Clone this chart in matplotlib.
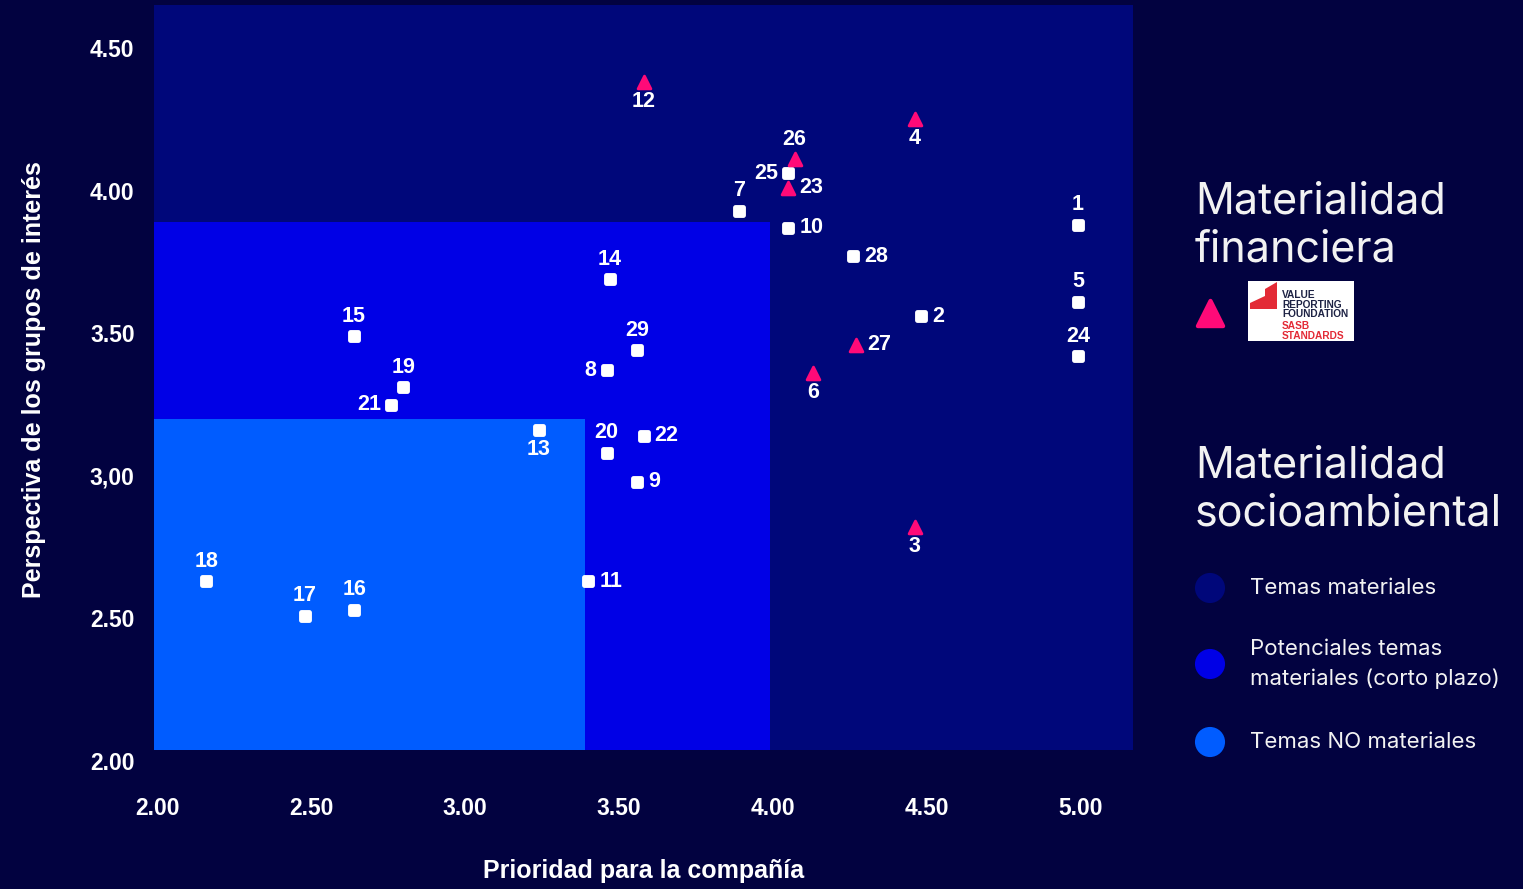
import numpy as np
import matplotlib.pyplot as plt
from matplotlib.markers import MarkerStyle
from matplotlib.patches import Rectangle, Polygon

# temas evaluados: prioridad para la compañía (x) y perspectiva de los grupos de interés (y)
temas = list(range(1, 30))
prioridad = [4.99, 4.48, 4.46, 4.46, 4.99, 4.13, 3.89, 3.46, 3.56, 4.05,
             3.40, 3.58, 3.24, 3.47, 2.64, 2.64, 2.48, 2.16, 2.80, 3.46,
             2.76, 3.58, 4.05, 4.99, 4.05, 4.07, 4.27, 4.26, 3.56]
perspectiva = [3.88, 3.56, 2.82, 4.25, 3.61, 3.36, 3.93, 3.37, 2.98, 3.87,
               2.63, 4.38, 3.16, 3.69, 3.49, 2.53, 2.51, 2.63, 3.31, 3.08,
               3.25, 3.14, 4.01, 3.42, 4.06, 4.11, 3.46, 3.77, 3.44]
# temas con materialidad financiera (SASB) -> triángulo
financiera = [3, 4, 6, 12, 23, 26, 27]

# zonas de materialidad socioambiental (esquina inferior izquierda común)
zona_origen = (1.99, 2.04)
zona_x_fin = [5.17, 3.99, 3.39]
zona_y_fin = [4.65, 3.89, 3.20]
zona_nombres = ['Temas materiales', 'Potenciales temas\nmateriales (corto plazo)', 'Temas NO materiales']

xticks = [2.0, 2.5, 3.0, 3.5, 4.0, 4.5, 5.0]
xtick_labels = ['2.00', '2.50', '3.00', '3.50', '4.00', '4.50', '5.00']
yticks = [2.0, 2.5, 3.0, 3.5, 4.0, 4.5]
ytick_labels = ['2.00', '2.50', '3,00', '3.50', '4.00', '4.50']

# colocación de las etiquetas numéricas (a = arriba, b = abajo, d = derecha, i = izquierda)
pos_etiqueta = {1: 'a', 2: 'd', 3: 'b', 4: 'b', 5: 'a', 6: 'b', 7: 'a', 8: 'i', 9: 'd', 10: 'd',
                11: 'd', 12: 'b', 13: 'b', 14: 'a', 15: 'a', 16: 'a', 17: 'a', 18: 'a', 19: 'a', 20: 'a',
                21: 'i', 22: 'd', 23: 'd', 24: 'a', 25: 'i', 26: 'a', 27: 'd', 28: 'd', 29: 'a'}

BG = '#020240'
ZONA_COLORES = ['#00077a', '#0000e6', '#005cff']
ROSA = '#ff0a78'
W, H = 1523, 889

fig = plt.figure(figsize=(W / 100, H / 100), dpi=100, facecolor=BG)
ax = fig.add_axes([154 / W, 1 - 761 / H, 979 / W, 756 / H])
ax.set_facecolor(BG)
ax.set_xlim(2 - 3 / 308, 2 + 976 / 308)
ax.set_ylim(2.0, 2 + 756 / 285.2)

for xf, yf, c in zip(zona_x_fin, zona_y_fin, ZONA_COLORES):
    ax.add_patch(Rectangle(zona_origen, xf - zona_origen[0], yf - zona_origen[1],
                           facecolor=c, edgecolor='none', zorder=0))

x = np.array(prioridad)
y = np.array(perspectiva)
es_fin = np.array([t in financiera for t in temas])

cuadrado = MarkerStyle('s', joinstyle='round')
triangulo = MarkerStyle('^', joinstyle='round')
ax.scatter(x[~es_fin], y[~es_fin], marker=cuadrado, s=38, c='white',
           edgecolors='white', linewidths=3.5, zorder=3)
ax.scatter(x[es_fin], y[es_fin], marker=triangulo, s=85, c=ROSA,
           edgecolors=ROSA, linewidths=2, zorder=3)

desp = {'a': ((0, 20), 'center', 'center'), 'b': ((0, -19), 'center', 'center'),
        'd': ((11, 0), 'left', 'center'), 'i': ((-10, 0), 'right', 'center')}
for t, xi, yi in zip(temas, prioridad, perspectiva):
    off, ha, va = desp[pos_etiqueta[t]]
    ax.annotate(str(t), (xi, yi), xytext=off, textcoords='offset pixels',
                ha=ha, va=va, color='white', fontsize=15.5, fontweight='bold',
                family=['Liberation Sans', 'DejaVu Sans'], zorder=4)

ax.set_xticks(xticks)
ax.set_xticklabels(xtick_labels)
ax.set_yticks(yticks)
ax.set_yticklabels(ytick_labels)
ax.tick_params(length=0, colors='white', labelsize=16.5)
ax.tick_params(axis='x', pad=26)
ax.tick_params(axis='y', pad=14)
for lab in ax.get_xticklabels() + ax.get_yticklabels():
    lab.set_fontweight('bold')
    lab.set_family(['Liberation Sans', 'DejaVu Sans'])
for s in ax.spines.values():
    s.set_visible(False)

ax.set_xlabel('Prioridad para la compañía', color='white', fontsize=18, fontweight='bold',
              family=['Liberation Sans', 'DejaVu Sans'], va='center')
ax.xaxis.set_label_coords((644 - 154) / 979, (761 - 871) / 756)
ax.set_ylabel('Perspectiva de los grupos de interés', color='white', fontsize=18, fontweight='bold',
              family=['Liberation Sans', 'DejaVu Sans'], va='center')
ax.yaxis.set_label_coords((34 - 154) / 979, (761 - 380) / 756)

# leyenda a la derecha, en coordenadas de píxel
lg = fig.add_axes([0, 0, 1, 1])
lg.set_xlim(0, W)
lg.set_ylim(H, 0)
lg.axis('off')
fuente = ['Inter', 'DejaVu Sans']
txt = '#f2f2f2'
lg.text(1195, 213, 'Materialidad', fontsize=31, color=txt, family=fuente, va='baseline')
lg.text(1195, 262, 'financiera', fontsize=31, color=txt, family=fuente, va='baseline')
lg.scatter([1210], [313], marker=triangulo, s=330, c=ROSA, edgecolors=ROSA, linewidths=3)

# logo Value Reporting Foundation / SASB
logo = Rectangle((1248, 281), 106, 60, facecolor='white', edgecolor='none')
lg.add_patch(logo)
lg.add_patch(Polygon([(1277, 282), (1277, 309), (1250, 309), (1250, 303), (1265, 296), (1265, 289)],
                     closed=True, facecolor='#e32a36', edgecolor='none'))
for yy, t, c in [(295, 'VALUE', '#1d2244'), (305, 'REPORTING', '#1d2244'),
                 (314, 'FOUNDATION', '#1d2244'), (326, 'SASB', '#e32a36'),
                 (336, 'STANDARDS', '#e32a36')]:
    tx = lg.text(1282, yy, t, fontsize=7.3, color=c, fontweight='bold', va='center',
                 family=['Liberation Sans', 'DejaVu Sans'])
    tx.set_clip_path(logo)

lg.text(1195, 478, 'Materialidad', fontsize=31, color=txt, family=fuente, va='baseline')
lg.text(1195, 525, 'socioambiental', fontsize=31, color=txt, family=fuente, va='baseline')
item_y = [588, 664, 742]
for yy, c, nombre in zip(item_y, ZONA_COLORES, zona_nombres):
    lg.scatter([1210], [yy], s=470, c=c, edgecolors='none')
    lg.text(1250, yy, nombre, fontsize=16, color=txt, family=fuente, va='center',
            linespacing=1.55)

fig.savefig('out.png', dpi=100, facecolor=BG)
